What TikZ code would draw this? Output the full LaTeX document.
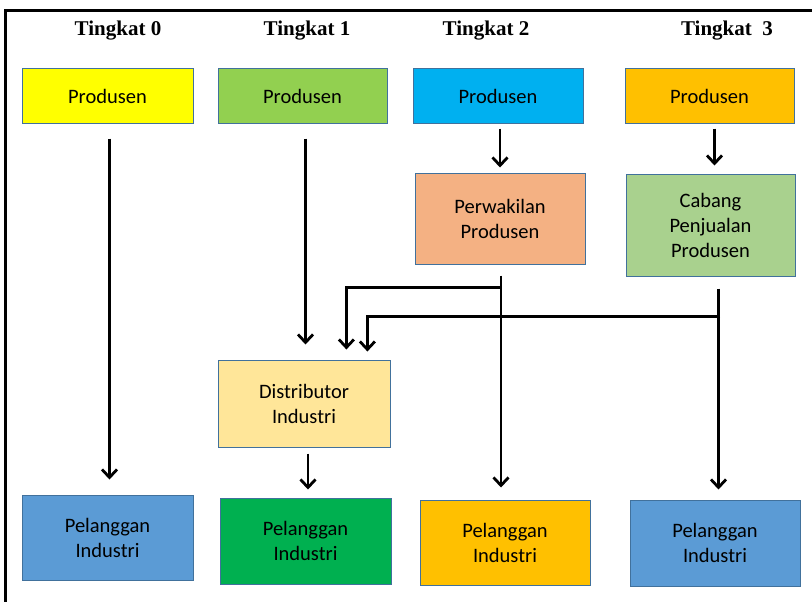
\documentclass[tikz,border=0pt]{standalone}
\usepackage{fontspec}
\setmainfont{Carlito}
\newfontfamily\headfont{Liberation Serif}
\usetikzlibrary{arrows.meta,calc}
\definecolor{edgeblue}{HTML}{41719C}
\definecolor{cYellow}{HTML}{FFFF00}
\definecolor{cLime}{HTML}{92D050}
\definecolor{cSky}{HTML}{00B0F0}
\definecolor{cGold}{HTML}{FFC000}
\definecolor{cPeach}{HTML}{F4B183}
\definecolor{cSage}{HTML}{A9D18E}
\definecolor{cCream}{HTML}{FFE699}
\definecolor{cSteel}{HTML}{5B9BD5}
\definecolor{cGreen}{HTML}{00B050}
\tikzset{
  box/.style={draw=edgeblue, line width=1pt, align=center, inner sep=2pt,
    font=\fontsize{20.5}{25}\selectfont},
  head/.style={font=\headfont\bfseries\fontsize{21}{24}\selectfont},
  arr/.style={line width=2.8pt, -{Straight Barb[length=8pt,width=15pt,line width=2.8pt]}},
  wire/.style={line width=2.8pt},
}
\begin{document}
\begin{tikzpicture}[x=1pt,y=-1pt]
\useasboundingbox (0,0) rectangle (812,602);
% frame
\draw[line width=3pt] (5,602) -- (5,11) -- (812,11);

% level headings
\node[head] (h0) at (118,31) {Tingkat 0};
\node[head] (h1) at (307,31) {Tingkat 1};
\node[head] (h2) at (486,31) {Tingkat 2};
\node[head] (h3) at (727,31) {Tingkat\ \ 3};

% producers
\node[box, fill=cYellow, minimum width=171pt, minimum height=54pt] (P0) at (107.5,96) {Produsen};
\node[box, fill=cLime,   minimum width=169pt, minimum height=54pt] (P1) at (302.5,96) {Produsen};
\node[box, fill=cSky,    minimum width=170pt, minimum height=54pt] (P2) at (498,96) {Produsen};
\node[box, fill=cGold,   minimum width=169pt, minimum height=54pt] (P3) at (709.5,96) {Produsen};

% intermediaries
\node[box, fill=cPeach, minimum width=170pt, minimum height=91pt] (Pw) at (500,218.5) {Perwakilan\\Produsen};
\node[box, fill=cSage,  minimum width=169pt, minimum height=102pt] (Cb) at (710.5,225) {Cabang\\Penjualan\\Produsen};
\node[box, fill=cCream, minimum width=172pt, minimum height=87pt] (Ds) at (304,403.5) {Distributor\\Industri};

% industrial customers
\node[box, fill=cSteel, minimum width=171pt, minimum height=85pt] (C0) at (107.5,537.5) {Pelanggan\\Industri};
\node[box, fill=cGreen, minimum width=171pt, minimum height=86pt] (C1) at (305.5,541) {Pelanggan\\Industri};
\node[box, fill=cGold,  minimum width=170pt, minimum height=85pt] (C2) at (505,542.5) {Pelanggan\\Industri};
\node[box, fill=cSteel, minimum width=170pt, minimum height=86pt] (C3) at (715,543) {Pelanggan\\Industri};

% level 0
\draw[arr] ([xshift=2pt,yshift=-15pt]P0.south) -- ([xshift=2pt,yshift=15pt]P0.south |- C0.north);
% level 1
\draw[arr] ([xshift=3pt,yshift=-15pt]P1.south) -- ([xshift=3pt,yshift=15pt]P1.south |- Ds.north);
\draw[arr] ([xshift=4pt,yshift=-6pt]Ds.south) -- ([xshift=4pt,yshift=8pt]Ds.south |- C1.north);
% level 2
\draw[arr] ([xshift=2pt,yshift=-5pt]P2.south) -- ([xshift=2pt,yshift=5pt]P2.south |- Pw.north);
\draw[arr] ([xshift=1pt,yshift=-11pt]Pw.south) -- ([xshift=1pt,yshift=12pt]Pw.south |- C2.north);
\coordinate (j2) at ($(Pw.south)+(1,23)$);
\draw[wire] (j2) -- ++(-156,0) coordinate (k2);
\draw[arr] ([xshift=1.4pt]k2) -- ([xshift=1.4pt,yshift=10pt]k2 |- Ds.north);
% level 3
\draw[arr] ([xshift=5pt,yshift=-5pt]P3.south) -- ([xshift=5pt,yshift=8pt]P3.south |- Cb.north);
\draw[arr] ([xshift=8pt,yshift=-12pt]Cb.south) -- ([xshift=8pt,yshift=10pt]Cb.south |- C3.north);
\coordinate (j3) at ($(Cb.south)+(9.5,40)$);
\draw[wire] (j3) -- ++(-354,0) coordinate (k3);
\draw[arr] ([xshift=1.4pt]k3) -- ([xshift=1.4pt,yshift=8pt]k3 |- Ds.north);
\end{tikzpicture}
\end{document}
